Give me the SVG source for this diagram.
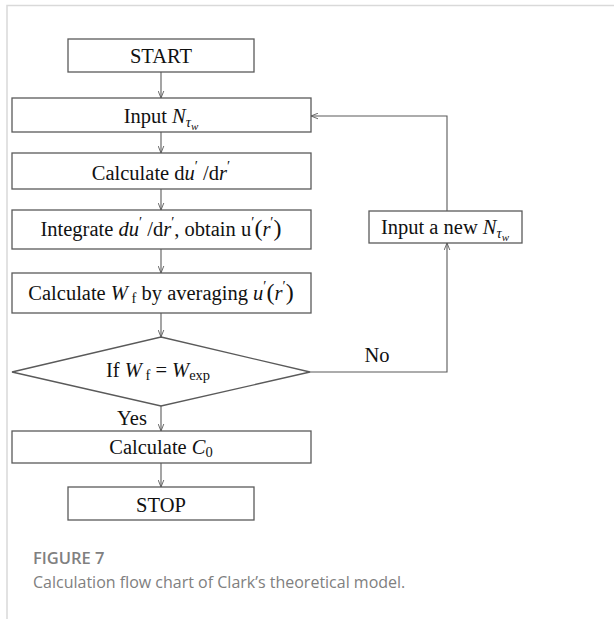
<svg xmlns="http://www.w3.org/2000/svg" width="614" height="619" viewBox="0 0 614 619">
<style>
.frame{fill:none;stroke:#d9d9d9;stroke-width:1.5}
.box{fill:#fff;stroke:#5a5a5a;stroke-width:1.3}
.t{font-family:"Liberation Serif","Times New Roman",serif;font-size:20.5px;fill:#111;text-anchor:middle}
.i{font-style:italic}
.sub{font-size:14.5px}
.cap{font-family:"Open Sans","Noto Sans",sans-serif;fill:#808080}
.conn{fill:none;stroke:#5a5a5a;stroke-width:1.1}
</style>
<defs>
<marker id="arr" viewBox="0 0 10 10" refX="10" refY="5" markerWidth="7" markerHeight="7" orient="auto" markerUnits="userSpaceOnUse">
<path d="M0,1 L10,5 L0,9" fill="none" stroke="#5a5a5a" stroke-width="1.3"/>
</marker>
</defs>
<path class="frame" d="M7,619 V5.5 H614"/>
<g id="connectors">
<line class="conn" x1="161" y1="72" x2="161" y2="98" marker-end="url(#arr)"/>
<line class="conn" x1="161" y1="132" x2="161" y2="153" marker-end="url(#arr)"/>
<line class="conn" x1="161" y1="189" x2="161" y2="210" marker-end="url(#arr)"/>
<line class="conn" x1="161" y1="249" x2="161" y2="273" marker-end="url(#arr)"/>
<line class="conn" x1="161" y1="313" x2="161" y2="337" marker-end="url(#arr)"/>
<line class="conn" x1="161" y1="406" x2="161" y2="431" marker-end="url(#arr)"/>
<line class="conn" x1="161" y1="463" x2="161" y2="487" marker-end="url(#arr)"/>
<polyline class="conn" points="310,372 447,372 447,243" marker-end="url(#arr)"/>
<polyline class="conn" points="447,211 447,116 311,116" marker-end="url(#arr)"/>
<text class="t" x="377" y="362">No</text>
<text class="t" x="132" y="425">Yes</text>
</g>
<g id="start">
<rect class="box" x="68" y="39" width="186" height="33"/>
<text class="t" x="161" y="63">START</text>
</g>
<g id="input">
<rect class="box" x="12" y="98" width="299" height="34"/>
<text class="t" x="161" y="123">Input <tspan class="i">N</tspan><tspan class="i sub" dy="4">τ</tspan><tspan class="i" font-size="11" dy="3">w</tspan></text>
</g>
<g id="calc-du">
<rect class="box" x="12" y="153" width="299" height="36"/>
<text class="t" x="161" y="180">Calculate d<tspan class="i">u</tspan><tspan class="sub" dy="-9">′</tspan><tspan dy="9"> /d</tspan><tspan class="i">r</tspan><tspan class="sub" dy="-9">′</tspan></text>
</g>
<g id="integrate">
<rect class="box" x="12" y="210" width="299" height="39"/>
<text class="t" x="161" y="236">Integrate <tspan class="i">du</tspan><tspan class="sub" dy="-9">′</tspan><tspan dy="9"> /d</tspan><tspan class="i">r</tspan><tspan class="sub" dy="-9">′</tspan><tspan dy="9">, obtain u</tspan><tspan class="sub" dy="-9">′</tspan><tspan dy="9" font-size="24">(</tspan><tspan class="i">r</tspan><tspan class="sub" dy="-9">′</tspan><tspan dy="9" font-size="24">)</tspan></text>
</g>
<g id="calc-wf">
<rect class="box" x="12" y="273" width="299" height="40"/>
<text class="t" x="161" y="300">Calculate <tspan class="i">W</tspan><tspan class="sub" dy="3"> f</tspan><tspan dy="-3"> by averaging </tspan><tspan class="i">u</tspan><tspan class="sub" dy="-9">′</tspan><tspan dy="9" font-size="24">(</tspan><tspan class="i">r</tspan><tspan class="sub" dy="-9">′</tspan><tspan dy="9" font-size="24">)</tspan></text>
</g>
<g id="decision">
<polygon class="box" points="161,337 310,372 161,406 12,372"/>
<text class="t" x="158" y="377">If <tspan class="i">W</tspan><tspan class="sub" dy="3"> f</tspan><tspan dy="-3">  =  </tspan><tspan class="i">W</tspan><tspan class="sub" dy="3">exp</tspan></text>
</g>
<g id="calc-c0">
<rect class="box" x="12" y="431" width="299" height="32"/>
<text class="t" x="161" y="454">Calculate <tspan class="i">C</tspan><tspan class="sub" dy="3">0</tspan></text>
</g>
<g id="stop">
<rect class="box" x="68" y="487" width="186" height="33"/>
<text class="t" x="161" y="512">STOP</text>
</g>
<g id="input-new">
<rect class="box" x="369" y="211" width="153" height="32"/>
<text class="t" x="445" y="234">Input a new <tspan class="i">N</tspan><tspan class="i sub" dy="4">τ</tspan><tspan class="i" font-size="11" dy="3">w</tspan></text>
</g>
<text class="cap" x="33" y="564" font-size="16.5" font-weight="600">FIGURE 7</text>
<text class="cap" x="33" y="588" font-size="16">Calculation flow chart of Clark’s theoretical model.</text>
</svg>
